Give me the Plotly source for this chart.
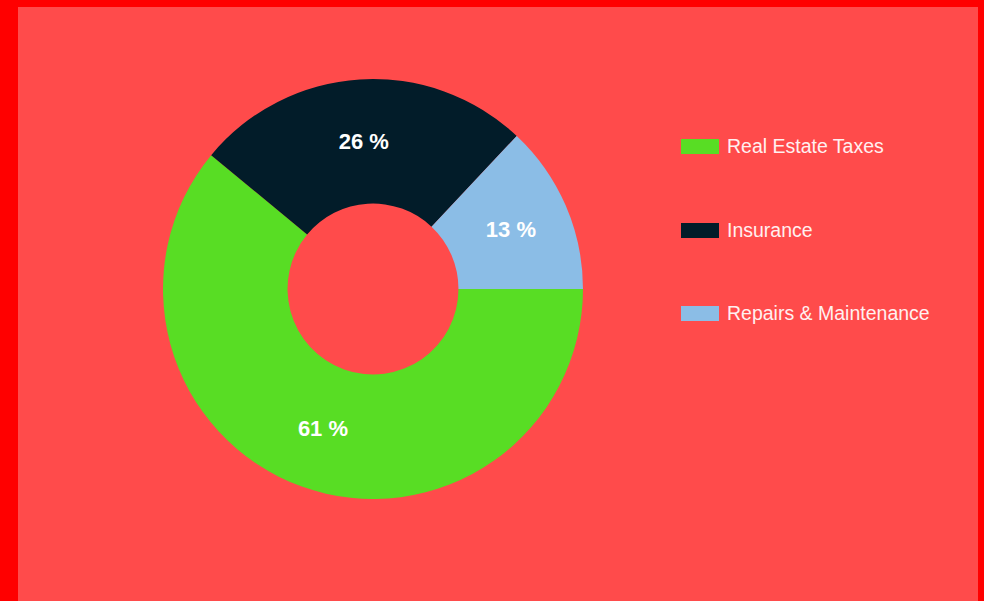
import plotly.graph_objects as go

# Expense breakdown
categories = ["Real Estate Taxes", "Insurance", "Repairs & Maintenance"]
shares = [61, 26, 13]
colors = ["#58dd24", "#021c29", "#8bbde6"]

W, H = 984, 601
outer_bg = "#ff0000"
inner_bg = "#ff4b4b"

fig = go.Figure(
    go.Pie(
        labels=categories,
        values=shares,
        marker=dict(colors=colors, line=dict(width=0)),
        hole=0.407,
        sort=False,
        direction="clockwise",
        rotation=90,
        texttemplate="%{value} %",
        textposition="inside",
        insidetextorientation="horizontal",
        textfont=dict(family="Liberation Sans, Arial", size=22, color="#ffffff", weight="bold"),
        hoverinfo="label+percent",
        showlegend=False,
        domain=dict(x=[163 / W, 583 / W], y=[1 - 499 / H, 1 - 79 / H]),
    )
)

shapes = [
    # frame: inner panel on a red border
    dict(type="rect", xref="paper", yref="paper", x0=0, x1=1, y0=0, y1=1,
         fillcolor=outer_bg, line=dict(width=0), layer="below"),
    dict(type="rect", xref="paper", yref="paper", x0=18 / W, x1=978 / W, y0=0, y1=1 - 7 / H,
         fillcolor=inner_bg, line=dict(width=0), layer="below"),
]

annotations = []
legend_rows = [146, 230, 313]
for name, col, yc in zip(categories, colors, legend_rows):
    shapes.append(dict(type="rect", xref="paper", yref="paper",
                       x0=681 / W, x1=719 / W, y0=1 - (yc + 8) / H, y1=1 - (yc - 7) / H,
                       fillcolor=col, line=dict(width=0)))
    annotations.append(dict(xref="paper", yref="paper", x=725 / W, y=1 - yc / H,
                            xanchor="left", yanchor="middle", showarrow=False,
                            text=name, font=dict(family="Liberation Sans, Arial", size=19.5, color="#fff0f0")))

fig.update_layout(
    width=W,
    height=H,
    margin=dict(l=0, r=0, t=0, b=0),
    paper_bgcolor=inner_bg,
    shapes=shapes,
    annotations=annotations,
)

fig.write_html("out.html")
